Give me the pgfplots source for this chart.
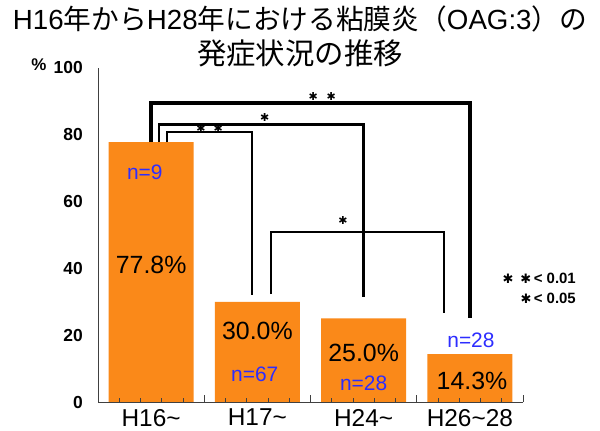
\documentclass[border=0pt]{standalone}
\usepackage{fontspec}
\setmainfont{Liberation Sans}
\newfontfamily\cjk{Noto Sans CJK JP}
\newfontfamily\dejavu{DejaVu Sans}
\usepackage{pgfplots}
\pgfplotsset{compat=1.18}
\definecolor{barorange}{RGB}{250,137,25}
\definecolor{nblue}{RGB}{45,45,255}

\begin{document}
\begin{tikzpicture}
\path[use as bounding box] (0,0) rectangle (600bp,431bp);
% title
\node[font=\fontsize{27.8}{32}\selectfont, inner sep=0pt] at (300bp,412bp)
  {H16{\cjk 年から}H28{\cjk 年における粘膜炎（}OAG:3{\cjk ）の}};
\node[font=\cjk\fontsize{29.5}{33}\selectfont, inner sep=0pt] at (300bp,378bp) {発症状況の推移};
\node[font=\bfseries\fontsize{17}{20}\selectfont, inner sep=0pt] at (39bp,366bp) {\%};

\begin{axis}[
  at={(98bp,29bp)}, anchor=south west,
  scale only axis, width=425bp, height=334bp,
  xmin=-0.5, xmax=3.5, ymin=0, ymax=100,
  axis x line*=bottom, axis y line*=left,
  axis line style={black!75, line width=0.9bp},
  ytick={0,20,40,60,80,100},
  ytick style={draw=none},
  xtick={-0.5,0.5,1.5,2.5,3.5},
  xticklabels={,,,,},
  minor x tick num=4,
  major tick length=7bp, minor tick length=4bp,
  xtick align=inside,
  xtick style={black!75, line width=0.9bp},
  extra x ticks={0,1,2,3},
  extra x tick labels={H16\textasciitilde,H17\textasciitilde,H24\textasciitilde,H26\textasciitilde28},
  extra x tick style={major tick length=0pt},
  xticklabel style={font=\fontsize{24.5}{28}\selectfont, inner sep=0pt, yshift=-7bp},
  yticklabel style={font=\bfseries\fontsize{17.5}{20}\selectfont, inner sep=0pt, xshift=-15bp,
    /pgf/number format/assume math mode=true},
  axis on top, clip=false,
]
\addplot[ybar, bar width=0.8, fill=barorange, draw=none]
  coordinates {(0,77.8) (1,30.0) (2,25.0) (3,14.3)};

% value and sample size labels
\node[font=\fontsize{25}{28}\selectfont] at (axis cs:0,41) {77.8\%};
\node[font=\fontsize{25}{28}\selectfont] at (axis cs:1,21.3) {30.0\%};
\node[font=\fontsize{25}{28}\selectfont] at (axis cs:2,14.7) {25.0\%};
\node[font=\fontsize{25}{28}\selectfont] at (axis cs:3.02,6.3) {14.3\%};
\node[font=\fontsize{21}{24}\selectfont, text=nblue] at (axis cs:-0.06,68.9) {n=9};
\node[font=\fontsize{21}{24}\selectfont, text=nblue] at (axis cs:0.975,8.4) {n=67};
\node[font=\fontsize{21}{24}\selectfont, text=nblue] at (axis cs:2,5.7) {n=28};
\node[font=\fontsize{21}{24}\selectfont, text=nblue] at (axis cs:3.01,18.6) {n=28};

% significance brackets
\draw[line width=3.5bp] (axis cs:0,77.8) |- (axis cs:3,89.5) -- (axis cs:3,25.1);
\draw[line width=2.8bp] (axis cs:0.074,77.8) |- (axis cs:2,83.2) -- (axis cs:2,31.4);
\draw[line width=2.5bp] (axis cs:0.149,77.8) |- (axis cs:0.95,80.8) -- (axis cs:0.95,32.0);
\draw[line width=2bp] (axis cs:1.128,32.3) |- (axis cs:2.756,50.9) -- (axis cs:2.756,26.6);
\node[font=\dejavu\fontsize{11}{11}\selectfont, anchor=south, inner sep=0pt, yshift=2bp]
  at (axis cs:1.61,89.5) {✱\hspace{9bp}✱};
\node[font=\dejavu\fontsize{11}{11}\selectfont, anchor=south, inner sep=0pt, yshift=2bp]
  at (axis cs:1.07,83.2) {✱};
\node[font=\dejavu\fontsize{11}{11}\selectfont, inner sep=0pt]
  at (axis cs:0.55,82.0) {✱\hspace{8bp}✱};
\node[font=\dejavu\fontsize{11}{11}\selectfont, inner sep=0pt]
  at (axis cs:1.806,54.2) {✱};
\end{axis}

% p-value key
\node[anchor=east, font=\bfseries\fontsize{15}{18}\selectfont, inner sep=0pt] at (576bp,153bp)
  {{\dejavu\fontsize{13}{13}\selectfont ✱}\hspace{7bp}{\dejavu\fontsize{13}{13}\selectfont ✱}\,< 0.01};
\node[anchor=east, font=\bfseries\fontsize{15}{18}\selectfont, inner sep=0pt] at (576bp,133bp)
  {{\dejavu\fontsize{13}{13}\selectfont ✱}\,< 0.05};
\end{tikzpicture}
\end{document}
